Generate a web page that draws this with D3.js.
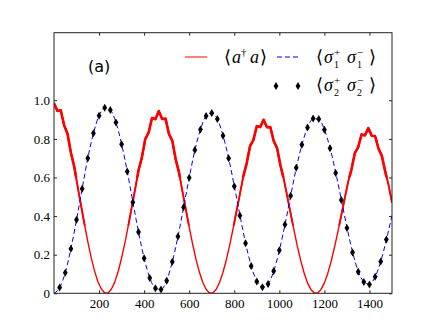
<!DOCTYPE html>
<html>
<head>
<meta charset="utf-8">
<script src="https://cdn.jsdelivr.net/npm/d3@7"></script>
<style>
  body { margin: 0; background: #fff; }
  svg { display: block; }
  .axis text { font-family: "Liberation Serif", "Times New Roman", serif; font-size: 13px; fill: #000; }
  .axis line { stroke: #222; }
  .axis path { display: none; }
  .math { font-family: "Liberation Serif", "Times New Roman", serif; }
</style>
</head>
<body>
<div id="chart"></div>
<script>
// <a†a>, sampled every 15 time units from 0 to 1500
const photonStep = 15;
const photon = [
  .985, .945, .948, .870, .826, .728, .655, .553, .455, .359,
  .268, .185, .115, .060, .022, .002, .002, .022, .059, .114,
  .183, .263, .352, .445, .539, .636, .704, .799, .833, .908,
  .902, .944, .903, .905, .826, .790, .694, .625, .528, .435,
  .343, .256, .177, .110, .057, .021, .002, .002, .021, .057,
  .109, .174, .251, .336, .425, .514, .606, .672, .763, .794,
  .866, .861, .899, .860, .861, .789, .752, .662, .590, .503,
  .414, .327, .243, .169, .105, .054, .020, .002, .002, .020,
  .054, .103, .166, .239, .320, .404, .490, .576, .641, .726,
  .757, .823, .818, .856, .816, .815, .750, .712, .630, .560,
  .470
];

// <σ1+ σ1->, every 25 time units from 0 to 1500
const qubitStep = 25;
const qubit1 = [
  .000, .029, .107, .231, .381, .542, .699, .829, .920, .961,
  .949, .885, .773, .632, .473, .318, .182, .080, .026, .020,
  .066, .163, .293, .445, .598, .741, .848, .918, .934, .903,
  .818, .700, .556, .405, .261, .143, .063, .032, .048, .115,
  .222, .356, .503, .648, .768, .858, .904, .902, .848, .753,
  .626, .486, .341, .214, .114, .060, .047, .085, .164, .277,
  .404
];

// <σ2+ σ2->, markers at 25, 50, ... 1475
const qubit2 = [
  .030, .106, .231, .381, .541, .700, .829, .920, .961,
  .950, .885, .772, .631, .472, .317, .181, .079, .026, .020,
  .065, .163, .294, .446, .598, .742, .849, .918, .934, .903,
  .816, .699, .554, .403, .259, .141, .061, .031, .048, .116,
  .223, .357, .505, .650, .769, .859, .905, .903, .847, .751,
  .623, .483, .338, .211, .111, .058, .045, .086, .165, .279
];

const xTicks = [200, 400, 600, 800, 1000, 1200, 1400];
const yTicks = [0, 0.2, 0.4, 0.6, 0.8, 1.0];

const photonData = photon.map((v, i) => ({ x: i * photonStep, y: v }));
const qubit1Data = qubit1.map((v, i) => ({ x: i * qubitStep, y: v }));
const qubit2Data = qubit2.map((v, i) => ({ x: (i + 1) * qubitStep, y: v }));

const width = 436;
const height = 327;
const margin = { top: 32.7, right: 44, bottom: 33.7, left: 54 };
const innerW = width - margin.left - margin.right;
const innerH = height - margin.top - margin.bottom;

const x = d3.scaleLinear().domain([0, 1500]).range([0, innerW]);
const y = d3.scaleLinear().domain([0, 1.35]).range([innerH, 0]);

const svg = d3.select('#chart')
  .append('svg')
  .attr('width', width)
  .attr('height', height);

const g = svg.append('g')
  .attr('transform', `translate(${margin.left},${margin.top})`);

g.append('clipPath')
  .attr('id', 'plot-clip')
  .append('rect')
  .attr('width', innerW)
  .attr('height', innerH);

// the noisy part of the photon curve looks thicker near the maxima
g.append('clipPath')
  .attr('id', 'upper-clip')
  .append('rect')
  .attr('width', innerW)
  .attr('height', y(0.6));

g.append('clipPath')
  .attr('id', 'mid-clip')
  .append('rect')
  .attr('width', innerW)
  .attr('height', y(0.35));

// axes, ticks pointing inward
const fmtY = d => d === 0 ? '0' : d.toFixed(1);

g.append('g')
  .attr('class', 'x axis')
  .attr('transform', `translate(0,${innerH})`)
  .call(d3.axisBottom(x).tickValues(xTicks).tickSize(-3).tickPadding(5).tickFormat(d3.format('d')));

g.append('g')
  .attr('class', 'x axis')
  .call(d3.axisTop(x).tickValues(xTicks).tickSize(-3).tickFormat(''));

g.append('g')
  .attr('class', 'y axis')
  .call(d3.axisLeft(y).tickValues(yTicks).tickSize(-3).tickPadding(4).tickFormat(fmtY));

g.append('g')
  .attr('class', 'y axis')
  .attr('transform', `translate(${innerW},0)`)
  .call(d3.axisRight(y).tickValues(yTicks).tickSize(-3).tickFormat(''));

g.selectAll('.axis text')
  .attr('font-family', '"Liberation Serif", "Times New Roman", serif');

const plot = g.append('g').attr('clip-path', 'url(#plot-clip)');

const line = d3.line()
  .x(d => x(d.x))
  .y(d => y(d.y));

plot.append('path')
  .datum(photonData)
  .attr('fill', 'none')
  .attr('stroke', '#ff0000')
  .attr('stroke-width', 1.4)
  .attr('stroke-linejoin', 'round')
  .attr('d', line);

plot.append('g')
  .attr('clip-path', 'url(#mid-clip)')
  .append('path')
  .datum(photonData)
  .attr('fill', 'none')
  .attr('stroke', '#ff0000')
  .attr('stroke-width', 1.9)
  .attr('stroke-linejoin', 'round')
  .attr('d', line);

plot.append('g')
  .attr('clip-path', 'url(#upper-clip)')
  .append('path')
  .datum(photonData)
  .attr('fill', 'none')
  .attr('stroke', '#ff0000')
  .attr('stroke-width', 2.6)
  .attr('stroke-linejoin', 'round')
  .attr('d', line);

plot.append('path')
  .datum(qubit1Data)
  .attr('fill', 'none')
  .attr('stroke', '#0000ff')
  .attr('stroke-width', 1)
  .attr('stroke-dasharray', '5,3')
  .attr('d', line.curve(d3.curveMonotoneX));

const diamond = 'M0,-4L2.4,0L0,4L-2.4,0Z';

plot.selectAll('path.marker')
  .data(qubit2Data)
  .enter()
  .append('path')
  .attr('class', 'marker')
  .attr('d', diamond)
  .attr('fill', '#000')
  .attr('transform', d => `translate(${x(d.x)},${y(d.y)})`);

// frame
g.append('rect')
  .attr('width', innerW)
  .attr('height', innerH)
  .attr('fill', 'none')
  .attr('stroke', '#222')
  .attr('stroke-width', 1);

// panel label
svg.append('text')
  .attr('x', 88)
  .attr('y', 72)
  .attr('font-family', 'DejaVu Sans, sans-serif')
  .attr('font-size', 16)
  .text('(a)');

// legend
const legend = svg.append('g');

legend.append('line')
  .attr('x1', 185).attr('x2', 207)
  .attr('y1', 57).attr('y2', 57)
  .attr('stroke', '#ff0000')
  .attr('stroke-width', 1);

legend.append('line')
  .attr('x1', 277).attr('x2', 299)
  .attr('y1', 57).attr('y2', 57)
  .attr('stroke', '#0000ff')
  .attr('stroke-width', 1)
  .attr('stroke-dasharray', '5,3');

[276, 298].forEach(cx => {
  legend.append('path')
    .attr('d', diamond)
    .attr('transform', `translate(${cx},86)`)
    .attr('fill', '#000');
});

// math labels are put together piece by piece so scripts can stack
function mathPiece (xPos, yPos, str, size, italic) {
  legend.append('text')
    .attr('class', 'math')
    .attr('x', xPos)
    .attr('y', yPos)
    .attr('font-size', size)
    .attr('font-style', italic ? 'italic' : 'normal')
    .text(str);
}

function photonLabel (x0, base) {
  mathPiece(x0, base, '\u27E8', 18);
  mathPiece(x0 + 8, base, 'a', 18, true);
  mathPiece(x0 + 17, base - 7, '\u2020', 11);
  mathPiece(x0 + 26, base, 'a', 18, true);
  mathPiece(x0 + 36, base, '\u27E9', 18);
}

function sigmaLabel (x0, base, idx) {
  mathPiece(x0, base, '\u27E8', 18);
  mathPiece(x0 + 8, base, '\u03C3', 18, true);
  mathPiece(x0 + 18, base - 7, '+', 11);
  mathPiece(x0 + 18, base + 5, idx, 10);
  mathPiece(x0 + 31, base, '\u03C3', 18, true);
  mathPiece(x0 + 41, base - 7, '\u2212', 11);
  mathPiece(x0 + 41, base + 5, idx, 10);
  mathPiece(x0 + 53, base, '\u27E9', 18);
}

photonLabel(224, 63);
sigmaLabel(316, 63, '1');
sigmaLabel(316, 91, '2');
</script>
</body>
</html>
